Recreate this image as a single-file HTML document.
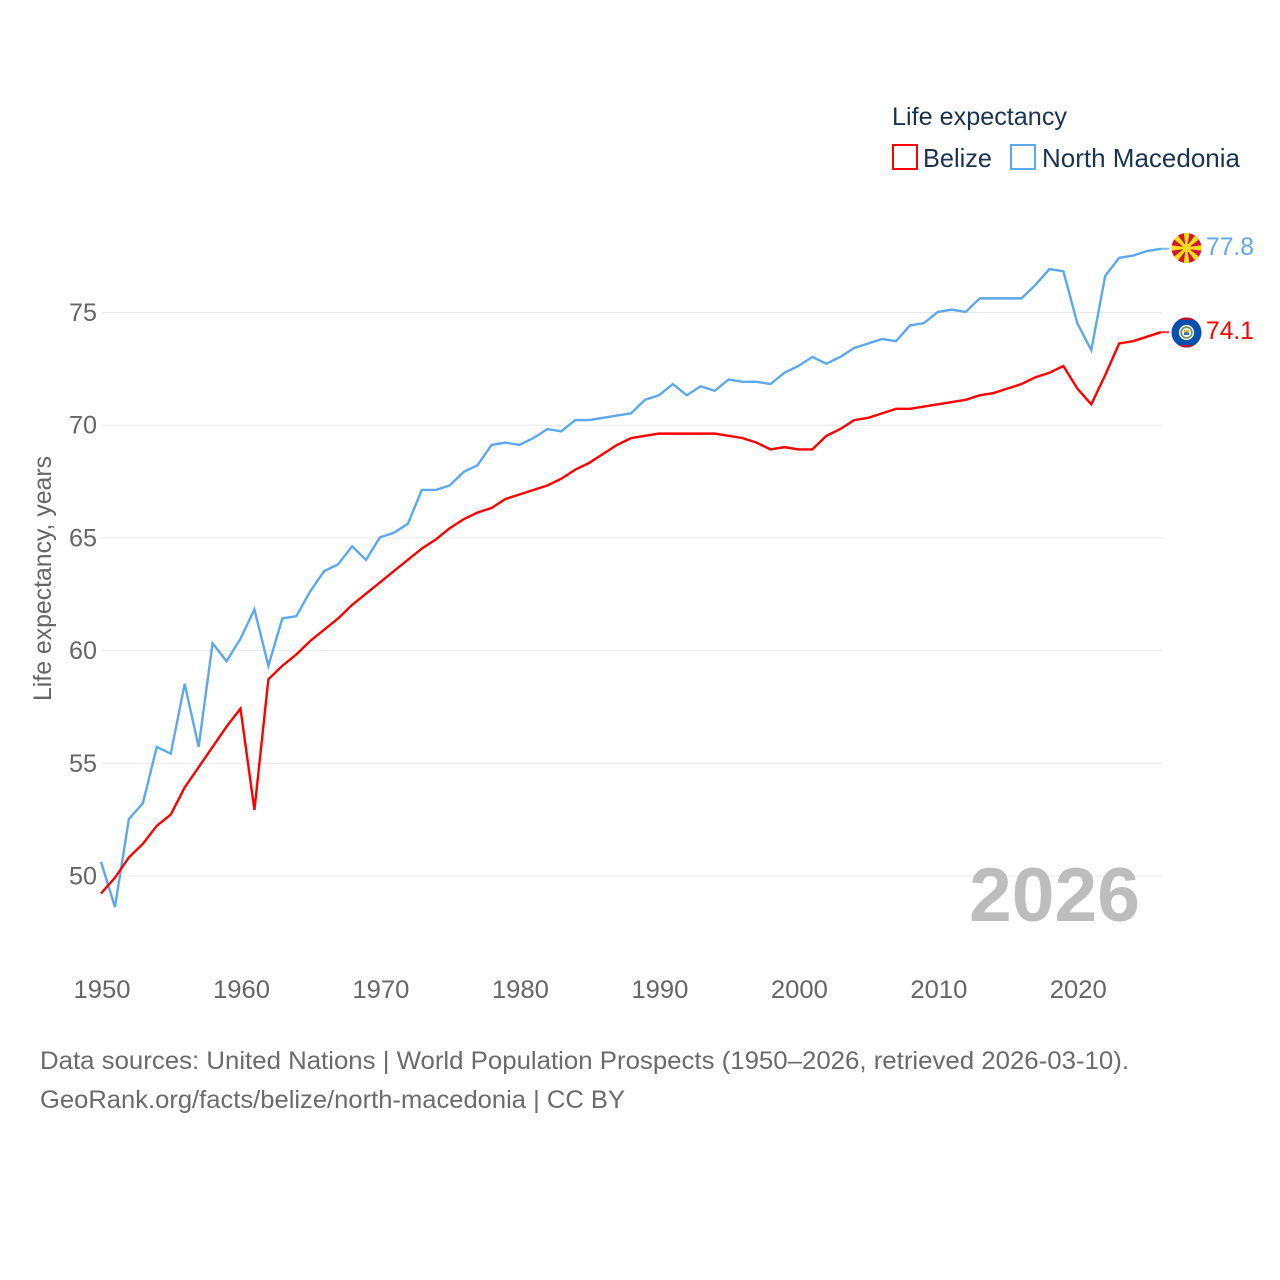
<!DOCTYPE html>
<html lang="en">
<head>
<meta charset="utf-8">
<title>Life expectancy: Belize and North Macedonia</title>
<style>
html,body{margin:0;padding:0;background:#fff;width:1280px;height:1280px;overflow:hidden}
svg{display:block}
text{font-family:"Liberation Sans",sans-serif}
</style>
</head>
<body>
<svg id="chart" xmlns="http://www.w3.org/2000/svg" width="1280" height="1280" viewBox="0 0 1280 1280">
  <defs>
    <clipPath id="flag-clip-mk"><circle cx="1186.5" cy="248" r="15"/></clipPath>
    <clipPath id="flag-clip-bz"><circle cx="1186.5" cy="332.5" r="15"/></clipPath>
  </defs>
  <rect width="1280" height="1280" fill="#fff"/>
  <g id="grid"></g>
  <g id="yticks"></g>
  <g id="xticks"></g>
  <text transform="translate(51,701) rotate(-90)" font-size="25" fill="#666" textLength="245" lengthAdjust="spacingAndGlyphs">Life expectancy, years</text>
  <text x="969" y="921" font-size="76" font-weight="700" fill="#bdbdbd" textLength="171" lengthAdjust="spacingAndGlyphs">2026</text>
  <g id="series"></g>

  <g clip-path="url(#flag-clip-mk)">
    <rect x="1171" y="233" width="31" height="30" fill="#d2142e"/>
    <g fill="#ffdc1e">
      <polygon transform="rotate(0 1186.5 248)" points="1183.6,232 1189.4,232 1187.3,248 1185.7,248"/>
      <polygon transform="rotate(45 1186.5 248)" points="1183.6,232 1189.4,232 1187.3,248 1185.7,248"/>
      <polygon transform="rotate(90 1186.5 248)" points="1183.6,232 1189.4,232 1187.3,248 1185.7,248"/>
      <polygon transform="rotate(135 1186.5 248)" points="1183.6,232 1189.4,232 1187.3,248 1185.7,248"/>
      <polygon transform="rotate(180 1186.5 248)" points="1183.6,232 1189.4,232 1187.3,248 1185.7,248"/>
      <polygon transform="rotate(225 1186.5 248)" points="1183.6,232 1189.4,232 1187.3,248 1185.7,248"/>
      <polygon transform="rotate(270 1186.5 248)" points="1183.6,232 1189.4,232 1187.3,248 1185.7,248"/>
      <polygon transform="rotate(315 1186.5 248)" points="1183.6,232 1189.4,232 1187.3,248 1185.7,248"/>
      <circle cx="1186.5" cy="248" r="4.4"/>
    </g>
  </g>
  <g clip-path="url(#flag-clip-bz)">
    <rect x="1171" y="317" width="31" height="31" fill="#0a4eae"/>
    <rect x="1171" y="317" width="31" height="3" fill="#b8122e"/>
    <rect x="1171" y="345" width="31" height="3" fill="#b8122e"/>
    <circle cx="1186.5" cy="332.5" r="7.6" fill="#f4f4f0"/>
    <circle cx="1186.5" cy="332.5" r="5.4" fill="none" stroke="#6f9a5a" stroke-width="1.7"/>
    <rect x="1184" y="330" width="5" height="2.4" fill="#d9b44a"/>
    <rect x="1184" y="332.4" width="5" height="2.6" fill="#3d6fa8"/>
  </g>

  <text x="1206" y="255" font-size="25" fill="#5ea8ef" textLength="48" lengthAdjust="spacingAndGlyphs">77.8</text>
  <text x="1206" y="339" font-size="25" fill="#ff0000" textLength="48" lengthAdjust="spacingAndGlyphs">74.1</text>

  <g>
    <text x="892" y="125" font-size="25" fill="#1a3355" textLength="175" lengthAdjust="spacingAndGlyphs">Life expectancy</text>
    <g>
      <rect x="893" y="145" width="24" height="24" fill="#fff" stroke="#ff0000" stroke-width="2"/>
      <text x="923" y="167" font-size="26" fill="#1a3355" textLength="69" lengthAdjust="spacingAndGlyphs">Belize</text>
    </g>
    <g>
      <rect x="1011" y="145" width="24" height="24" fill="#fff" stroke="#5ea8ef" stroke-width="2"/>
      <text x="1042" y="167" font-size="26" fill="#1a3355" textLength="198" lengthAdjust="spacingAndGlyphs">North Macedonia</text>
    </g>
  </g>

  <text x="40" y="1069" font-size="25" fill="#6b6b6b" textLength="1089" lengthAdjust="spacingAndGlyphs">Data sources: United Nations | World Population Prospects (1950–2026, retrieved 2026-03-10).</text>
  <a><text x="40" y="1108" font-size="25" fill="#6b6b6b" textLength="585" lengthAdjust="spacingAndGlyphs">GeoRank.org/facts/belize/north-macedonia | CC BY</text></a>
</svg>
<script>
const startYear = 1950;
const endYear = 2026;
const yTickValues = [50, 55, 60, 65, 70, 75];
const xTickValues = [1950, 1960, 1970, 1980, 1990, 2000, 2010, 2020];
const northMacedonia = [50.6,48.6,52.5,53.2,55.7,55.4,58.5,55.7,60.3,59.5,60.5,61.8,59.3,61.4,61.5,62.6,63.5,63.8,64.6,64.0,65.0,65.2,65.6,67.1,67.1,67.3,67.9,68.2,69.1,69.2,69.1,69.4,69.8,69.7,70.2,70.2,70.3,70.4,70.5,71.1,71.3,71.8,71.3,71.7,71.5,72.0,71.9,71.9,71.8,72.3,72.6,73.0,72.7,73.0,73.4,73.6,73.8,73.7,74.4,74.5,75.0,75.1,75.0,75.6,75.6,75.6,75.6,76.2,76.9,76.8,74.5,73.3,76.6,77.4,77.5,77.7,77.8];
const belize = [49.2,49.9,50.8,51.4,52.2,52.7,53.9,54.8,55.7,56.6,57.4,52.9,58.7,59.3,59.8,60.4,60.9,61.4,62.0,62.5,63.0,63.5,64.0,64.5,64.9,65.4,65.8,66.1,66.3,66.7,66.9,67.1,67.3,67.6,68.0,68.3,68.7,69.1,69.4,69.5,69.6,69.6,69.6,69.6,69.6,69.5,69.4,69.2,68.9,69.0,68.9,68.9,69.5,69.8,70.2,70.3,70.5,70.7,70.7,70.8,70.9,71.0,71.1,71.3,71.4,71.6,71.8,72.1,72.3,72.6,71.6,70.9,72.2,73.6,73.7,73.9,74.1];

const NS = 'http://www.w3.org/2000/svg';
const plotLeft = 101, plotRight = 1161;
const gridLeft = 102, gridRight = 1162;
function xScale(year) { return plotLeft + (year - startYear) * (plotRight - plotLeft) / (endYear - startYear); }
function yScale(value) { return 875.4 - (value - 50) * 22.54; }
function gridY(value) { return 876 - (value - 50) * 22.54; }
function make(tag, attrs) {
  const el = document.createElementNS(NS, tag);
  for (const k in attrs) el.setAttribute(k, attrs[k]);
  return el;
}

const grid = document.getElementById('grid');
const yticks = document.getElementById('yticks');
yTickValues.forEach(function (v) {
  const line = make('line', { x1: gridLeft, x2: gridRight, y1: gridY(v), y2: gridY(v), stroke: '#e8e8e8', 'stroke-width': 1 });
  
  
  grid.appendChild(line);
  const label = make('text', { x: 97, y: gridY(v) + 8.5, 'text-anchor': 'end', 'font-size': 25, fill: '#666', textLength: 28, lengthAdjust: 'spacingAndGlyphs' });
  
  
  label.textContent = v;
  yticks.appendChild(label);
});

const xticks = document.getElementById('xticks');
xTickValues.forEach(function (y) {
  const label = make('text', { x: xScale(y) + 1, y: 998, 'text-anchor': 'middle', 'font-size': 25, fill: '#666', textLength: 57, lengthAdjust: 'spacingAndGlyphs' });
  
  
  label.textContent = y;
  xticks.appendChild(label);
});

const seriesGroup = document.getElementById('series');
function drawSeries(values, color, name) {
  const pts = values.map(function (v, i) { return xScale(startYear + i).toFixed(2) + ',' + yScale(v).toFixed(2); });
  const line = make('polyline', { points: pts.join(' '), fill: 'none', stroke: color, 'stroke-width': 2.4, 'stroke-linejoin': 'miter' });
  
  
  seriesGroup.appendChild(line);
  const lastY = yScale(values[values.length - 1]);
  const connector = make('line', { x1: plotRight, x2: plotRight + 8, y1: lastY, y2: lastY, stroke: color, 'stroke-width': 2, opacity: 0.8 });
  
  
  seriesGroup.appendChild(connector);
}
drawSeries(northMacedonia, '#5ea8ef', 'north-macedonia');
drawSeries(belize, '#ff0000', 'belize');
</script>
</body>
</html>
